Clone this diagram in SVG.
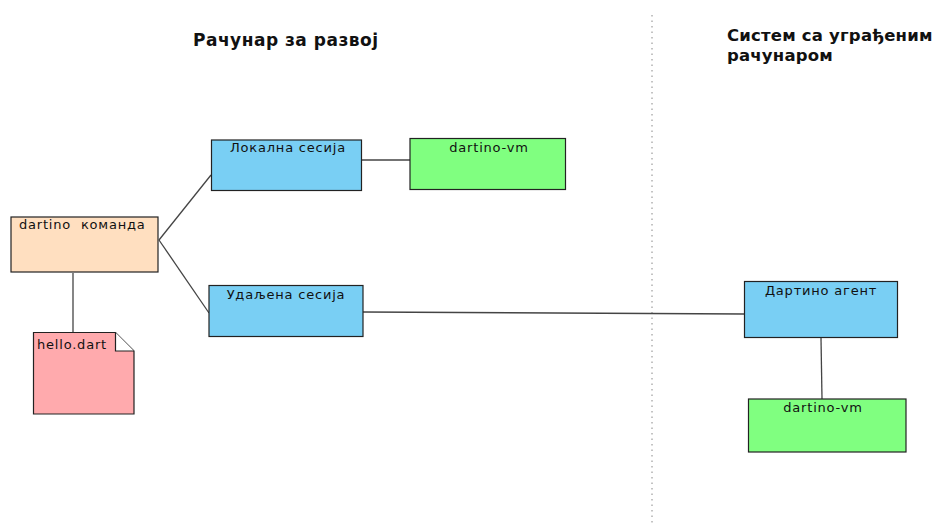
<svg xmlns="http://www.w3.org/2000/svg" width="932" height="524" viewBox="0 0 932 524">
<style>
.box{stroke:#222;stroke-width:1.2}
.lbl{font-family:"DejaVu Sans",sans-serif;font-size:13px;letter-spacing:0.8px;fill:#111}
.ttl{font-family:"DejaVu Sans",sans-serif;font-weight:bold;fill:#111}
.con{stroke:#444;stroke-width:1.3;fill:none}
</style>
<rect width="932" height="524" fill="#fff"/>
<line x1="652" y1="15" x2="652" y2="524" stroke="#888" stroke-width="1" stroke-dasharray="1.5,4"/>
<text class="ttl" x="193" y="46" font-size="17" letter-spacing="0.5">Рачунар за развој</text>
<text class="ttl" x="727" y="41" font-size="16.5" letter-spacing="0.2">Систем са уграђеним</text>
<text class="ttl" x="727" y="61" font-size="16.5" letter-spacing="0.2">рачунаром</text>
<g id="connectors">
<line class="con" x1="159" y1="240" x2="211" y2="175"/>
<line class="con" x1="159" y1="240" x2="209" y2="313"/>
<line class="con" x1="73" y1="273" x2="73" y2="332"/>
<line class="con" x1="362" y1="160" x2="410" y2="160"/>
<line class="con" x1="363" y1="312" x2="744" y2="314"/>
<line class="con" x1="821" y1="338" x2="822" y2="399"/>
</g>
<g id="cmd">
<rect class="box" x="11" y="217" width="147" height="55" fill="#FFDFC0"/>
<text class="lbl" x="19" y="229">dartino&#160; команда</text>
</g>
<g id="hello">
<path class="box" d="M33.5 332.5H115.5L134 351V414H33.5Z" fill="#FFAAAD"/>
<path class="box" d="M115.5 332.5V351H134" fill="#fff"/>
<text class="lbl" x="37" y="349">hello.dart</text>
</g>
<g id="local">
<rect class="box" x="211.5" y="140" width="150" height="50.5" fill="#79CFF4"/>
<text class="lbl" x="288" y="152" text-anchor="middle">Локална сесија</text>
</g>
<g id="vm1">
<rect class="box" x="410" y="138.5" width="155.5" height="51" fill="#80FF80"/>
<text class="lbl" x="489" y="152" text-anchor="middle">dartino-vm</text>
</g>
<g id="remote">
<rect class="box" x="209" y="285.5" width="154" height="51" fill="#79CFF4"/>
<text class="lbl" x="286" y="299" text-anchor="middle">Удаљена сесија</text>
</g>
<g id="agent">
<rect class="box" x="744.5" y="281.5" width="153" height="56" fill="#79CFF4"/>
<text class="lbl" x="821" y="295" text-anchor="middle">Дартино агент</text>
</g>
<g id="vm2">
<rect class="box" x="748.5" y="399" width="157.5" height="53" fill="#80FF80"/>
<text class="lbl" x="823" y="412" text-anchor="middle">dartino-vm</text>
</g>
</svg>
